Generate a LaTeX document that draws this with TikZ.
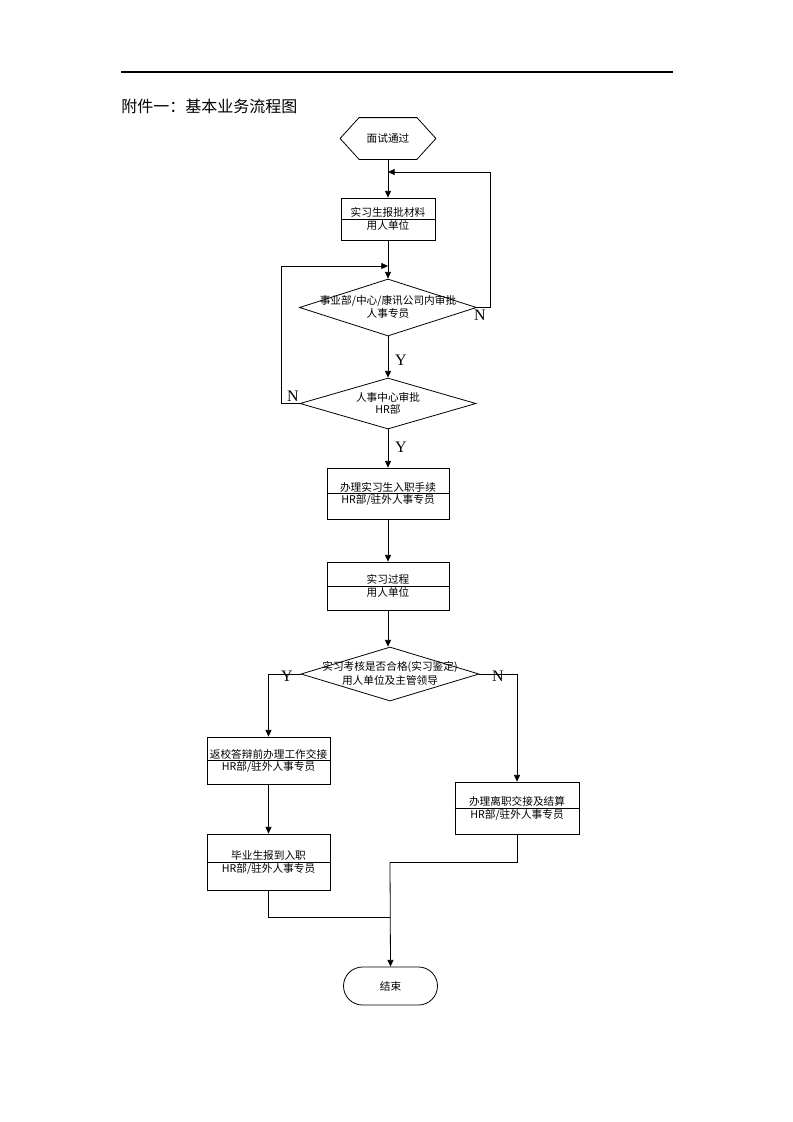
\documentclass[tikz,border=0pt]{standalone}
\usepackage{fontspec}
\setmainfont{Liberation Serif}
\newfontfamily\cjk{Noto Sans CJK SC}
\usetikzlibrary{arrows.meta,shapes.geometric,calc}
\begin{document}
\begin{tikzpicture}[x=0.75pt,y=-0.75pt,
  line width=0.6pt,
  arr/.style={-{Triangle[length=5pt,width=4.5pt]}},
  box/.style={draw,rectangle,inner sep=0pt},
  dia/.style={draw,diamond,inner sep=0pt},
  txt/.style={font=\cjk\fontsize{8}{9.5}\selectfont,inner sep=0pt},
  yn/.style={font=\fontsize{12}{13}\selectfont,inner sep=0pt}]
\useasboundingbox (0,0) rectangle (793,1122);
% header
\coordinate (r1) at (121,72);
\coordinate (r2) at (673,72);
\draw[line width=0.8pt] (r1) -- (r2);
\node[anchor=base west,font=\cjk\fontsize{12}{14}\selectfont,inner sep=0pt] (title) at (121,112) {附件一：基本业务流程图};

% start hexagon
\node[minimum width=71.25pt,minimum height=30.75pt,inner sep=0pt] (start) at (388,138.5) {};
\draw ($(start.north west)+(19,0)$) -- ($(start.north east)+(-19,0)$) -- (start.east)
  -- ($(start.south east)+(-19,0)$) -- ($(start.south west)+(19,0)$) -- (start.west) -- cycle;
\node[txt] at (start) {面试通过};

% box1
\node[box,minimum width=70.5pt,minimum height=31.5pt] (b1) at (388,219) {};
\draw (b1.west) -- (b1.east);
\node[txt,anchor=south] at ($(b1.center)+(0,-1)$) {实习生报批材料};
\node[txt,anchor=north] at ($(b1.center)+(0,1)$) {用人单位};

% diamond 1
\node[dia,minimum width=132.75pt,minimum height=42.75pt] (d1) at (388,307.5) {};
\node[txt,anchor=south] at ($(d1.center)+(0,-1)$) {事业部/中心/康讯公司内审批};
\node[txt,anchor=north] at ($(d1.center)+(0,1)$) {人事专员};

% diamond 2
\node[dia,minimum width=132pt,minimum height=38.25pt] (d2) at (388,403.5) {};
\node[txt,anchor=south] at ($(d2.center)+(0,-1)$) {人事中心审批};
\node[txt,anchor=north] at ($(d2.center)+(0,1)$) {HR部};

% box2
\node[box,minimum width=91.5pt,minimum height=38.25pt] (b2) at (388,493.5) {};
\draw (b2.west) -- (b2.east);
\node[txt,anchor=south] at ($(b2.center)+(0,-1)$) {办理实习生入职手续};
\node[txt,anchor=north] at ($(b2.center)+(0,1)$) {HR部/驻外人事专员};

% box3
\node[box,minimum width=91.5pt,minimum height=36pt] (b3) at (388,586) {};
\draw (b3.west) -- (b3.east);
\node[txt,anchor=south] at ($(b3.center)+(0,-1)$) {实习过程};
\node[txt,anchor=north] at ($(b3.center)+(0,1)$) {用人单位};

% diamond 3
\node[dia,minimum width=133.5pt,minimum height=40.5pt] (d3) at (390,674) {};
\node[txt,anchor=south] at ($(d3.center)+(0,-1)$) {实习考核是否合格(实习鉴定)};
\node[txt,anchor=north] at ($(d3.center)+(0,1)$) {用人单位及主管领导};

% box4
\node[box,minimum width=92.25pt,minimum height=35.25pt] (b4) at (268.5,760.5) {};
\draw (b4.west) -- (b4.east);
\node[txt,anchor=south] at ($(b4.center)+(0,-1)$) {返校答辩前办理工作交接};
\node[txt,anchor=north] at ($(b4.center)+(0,1)$) {HR部/驻外人事专员};

% box5
\node[box,minimum width=92.25pt,minimum height=42pt] (b5) at (268.5,862) {};
\draw (b5.west) -- (b5.east);
\node[txt,anchor=south] at ($(b5.center)+(0,-1)$) {毕业生报到入职};
\node[txt,anchor=north] at ($(b5.center)+(0,1)$) {HR部/驻外人事专员};

% box6
\node[box,minimum width=93pt,minimum height=39pt] (b6) at (517,808) {};
\draw (b6.west) -- (b6.east);
\node[txt,anchor=south] at ($(b6.center)+(0,-1)$) {办理离职交接及结算};
\node[txt,anchor=north] at ($(b6.center)+(0,1)$) {HR部/驻外人事专员};

% end
\node[draw,minimum width=70.5pt,minimum height=28.5pt,rounded corners=14.25pt,inner sep=0pt] (end) at (390.5,986) {};
\node[txt] at (end) {结束};

% connectors
\draw[arr] (start) -- (b1);
\draw[arr] (b1) -- (d1);
\draw[arr] (d1) -- (d2);
\draw[arr] (d2) -- (b2);
\draw[arr] (b2) -- (b3);
\draw[arr] (b3.south) -- (b3.south |- d3.north);
\coordinate (nret) at (490,172);
\draw[arr] (d1.east) -| (nret) -- (388,172);
\coordinate (nret2) at (281,266);
\draw[arr] (d2.west) -| (nret2) -- (388,266);
\draw[arr] (d3.west) -| (b4.north);
\draw[arr] (d3.east) -| (b6.north);
\draw[arr] (b4) -- (b5);
\coordinate (j1) at (390,917);
\coordinate (j2) at (390,862);
\draw (b5.south) |- (j1);
\draw (b6.south) |- (j2);
\draw[arr] (j2) -- (end.north);

% labels
\node[yn] at (480,315) {N};
\node[yn] at (401,360) {Y};
\node[yn] at (293,396) {N};
\node[yn] at (401,447) {Y};
\node[yn] at (287,676) {Y};
\node[yn] at (498,676) {N};
\end{tikzpicture}
\end{document}
